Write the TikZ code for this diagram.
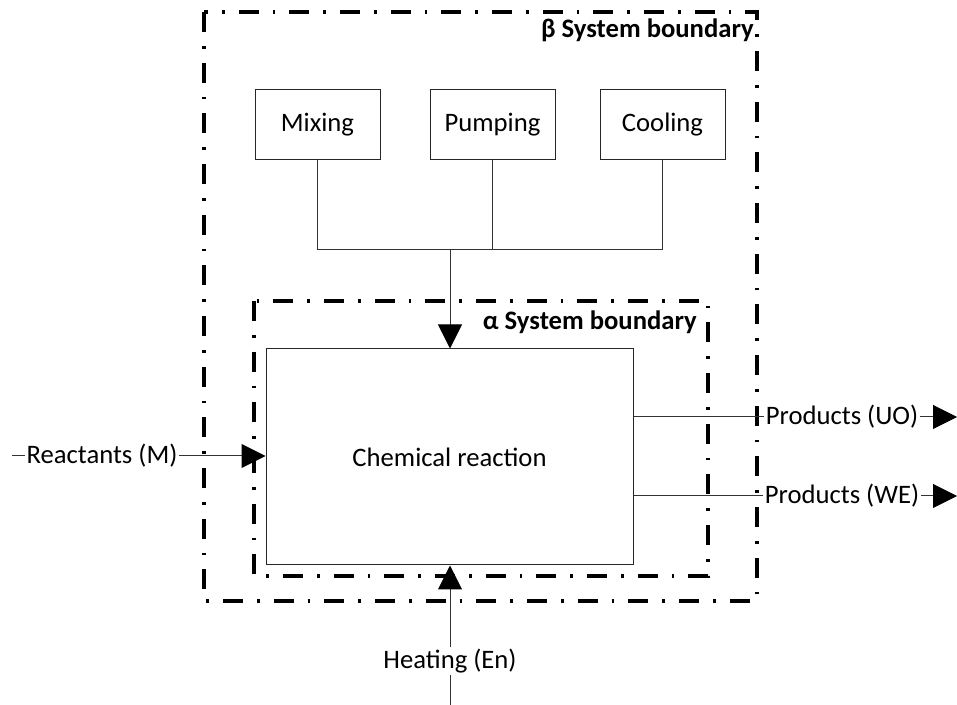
\documentclass[tikz,border=0pt]{standalone}
\usepackage{fontspec}
\setmainfont{Carlito}
\usetikzlibrary{arrows.meta}
\begin{document}
\begin{tikzpicture}[x=0.75pt,y=-0.75pt,
  font=\fontsize{20}{24}\selectfont,
  proc/.style={draw=black!85, line width=0.75pt, minimum width=93.75pt, minimum height=52.5pt, inner sep=0pt},
  bound/.style={draw=black, line width=2.4pt, dash pattern=on 15pt off 10.5pt on 2pt off 10.5pt},
  lab/.style={fill=white, inner sep=1pt},
  conn/.style={draw=black!80, line width=0.75pt},
  arr/.style={conn, -{Triangle[length=18pt, width=18pt, color=black]}},
  blab/.style={font=\fontsize{20}{24}\selectfont\bfseries, inner sep=0pt}]
\useasboundingbox (0,0) rectangle (957,705);
% boundaries
\draw[bound] (204,12) rectangle (757,601);
\draw[bound] (254,301) rectangle (708,576);
\node[blab, anchor=base east] (betal) at (754,38) {β System boundary};
\node[blab, anchor=base east] (alphal) at (697,330) {α System boundary};
% process boxes
\node[proc] (mix) at (317.5,125) {Mixing};
\node[proc] (pump) at (492.5,125) {Pumping};
\node[proc] (cool) at (662.5,125) {Cooling};
\node[proc, minimum width=275.25pt, minimum height=162pt] (chem) at (449.5,457) {Chemical reaction};
% merge
\coordinate (j) at (450,250);
\draw[conn] (mix.south) |- (cool.south |- j) -- (cool.south);
\draw[conn] (pump.south) -- (pump.south |- j);
\draw[arr] (j) -- (chem.north -| j);
% reactants
\coordinate (rin) at (12,456);
\node[lab] (react) at (102,456) {Reactants (M)};
\draw[conn] (rin) -- (react);
\draw[arr] (react) -- (chem.west |- react);
% products
\node[lab] (uo) at (842,417) {Products (UO)};
\node[lab] (we) at (842,496) {Products (WE)};
\coordinate (uoend) at (957,417);
\coordinate (weend) at (957,496);
\draw[conn] (chem.east |- uo) -- (uo);
\draw[arr] (uo) -- (uoend);
\draw[conn] (chem.east |- we) -- (we);
\draw[arr] (we) -- (weend);
% heating
\coordinate (hin) at (450,705);
\node[lab] (heat) at (450,661) {Heating (En)};
\draw[conn] (hin) -- (heat);
\draw[arr] (heat) -- (chem.south -| heat);
\end{tikzpicture}
\end{document}
